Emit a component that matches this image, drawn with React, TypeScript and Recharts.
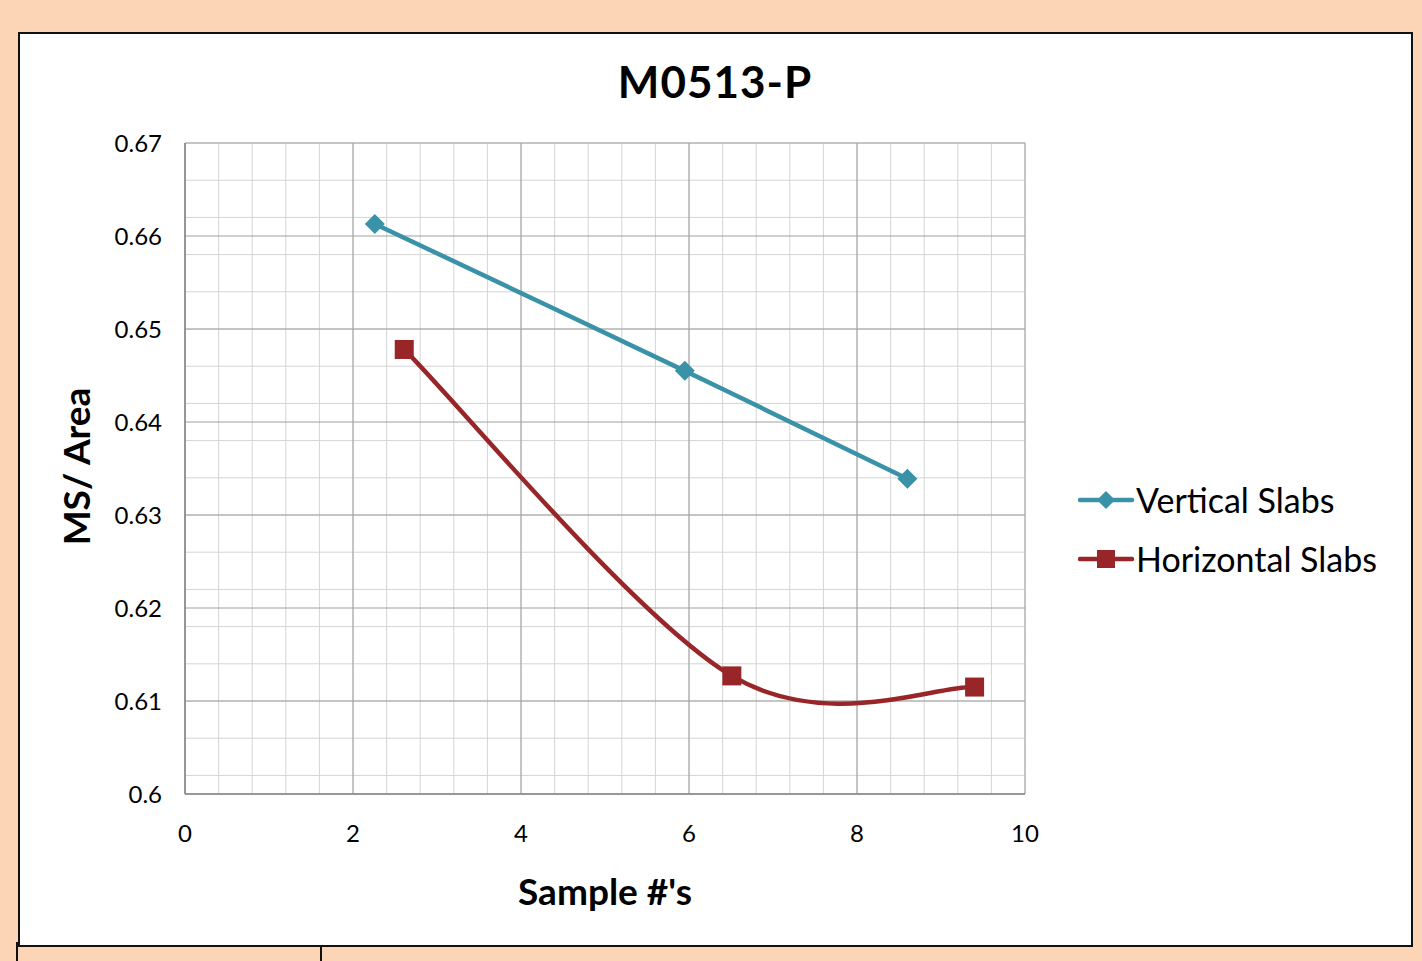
import React from "react";
import {
  LineChart,
  Line,
  XAxis,
  YAxis,
  CartesianGrid,
  Legend,
  Label,
} from "recharts";

// Sample positions and MS/Area readings
const verticalX = [2.26, 5.95, 8.6];
const verticalY = [0.6613, 0.6455, 0.6339];
const horizontalX = [2.61, 6.51, 9.4];
const horizontalY = [0.6478, 0.6127, 0.6115];

const xTicks = [0, 2, 4, 6, 8, 10];
const yTicks = [0.6, 0.61, 0.62, 0.63, 0.64, 0.65, 0.66, 0.67];

const TEAL = "#3A92A9";
const RED = "#982629";
const FONT = "Lato, 'Open Sans', sans-serif";

// minor gridlines: 0.4 apart on x, 0.002 apart on y
const xMinor = Array.from({ length: 26 }, (_, i) => +(i * 0.4).toFixed(2));
const yMinor = Array.from({ length: 36 }, (_, i) => +(0.6 + i * 0.002).toFixed(3));

const verticalData = verticalX.map((x, i) => ({ x, y: verticalY[i] }));
const horizontalData = horizontalX.map((x, i) => ({ x, y: horizontalY[i] }));

// Excel-style smoothed line (uniform Catmull-Rom as cubic beziers)
function smoothCurve(context: any) {
  let pts: number[][] = [];
  return {
    areaStart() {},
    areaEnd() {},
    lineStart() {
      pts = [];
    },
    point(x: number, y: number) {
      pts.push([+x, +y]);
    },
    lineEnd() {
      const n = pts.length;
      if (!n) return;
      context.moveTo(pts[0][0], pts[0][1]);
      for (let i = 0; i < n - 1; i++) {
        const p0 = pts[Math.max(i - 1, 0)];
        const p1 = pts[i];
        const p2 = pts[i + 1];
        const p3 = pts[Math.min(i + 2, n - 1)];
        context.bezierCurveTo(
          p1[0] + (p2[0] - p0[0]) / 6,
          p1[1] + (p2[1] - p0[1]) / 6,
          p2[0] - (p3[0] - p1[0]) / 6,
          p2[1] - (p3[1] - p1[1]) / 6,
          p2[0],
          p2[1]
        );
      }
    },
  };
}

const Diamond = (props: any) => {
  const { cx, cy } = props;
  if (cx == null || cy == null) return null;
  const r = 10;
  return (
    <path
      d={`M${cx},${cy - r}L${cx + r},${cy}L${cx},${cy + r}L${cx - r},${cy}Z`}
      fill={TEAL}
    />
  );
};

const Square = (props: any) => {
  const { cx, cy } = props;
  if (cx == null || cy == null) return null;
  const s = 9.5;
  return <rect x={cx - s} y={cy - s} width={s * 2} height={s * 2} fill={RED} />;
};

const LegendBox = () => {
  const items = [
    { name: "Vertical Slabs", color: TEAL, shape: "diamond" },
    { name: "Horizontal Slabs", color: RED, shape: "square" },
  ];
  return (
    <div style={{ fontFamily: FONT }}>
      {items.map((it) => (
        <div
          key={it.name}
          style={{ display: "flex", alignItems: "center", height: 59 }}
        >
          <svg width={56} height={24} style={{ marginRight: 2 }}>
            <line x1={2} y1={12} x2={54} y2={12} stroke={it.color} strokeWidth={4.5} strokeLinecap="round" />
            {it.shape === "diamond" ? (
              <path d="M28,3L37,12L28,21L19,12Z" fill={it.color} />
            ) : (
              <rect x={19} y={3} width={18} height={18} fill={it.color} />
            )}
          </svg>
          <span style={{ fontSize: 34, color: "#000" }}>{it.name}</span>
        </div>
      ))}
    </div>
  );
};

export default function App() {
  return (
    <div
      style={{
        position: "fixed",
        left: 0,
        top: 0,
        width: 1422,
        height: 961,
        background: "#FBD5B5",
        overflow: "hidden",
      }}
    >
      {/* white chart frame */}
      <div
        style={{
          position: "absolute",
          left: 18,
          top: 32,
          width: 1391,
          height: 911,
          background: "#fff",
          border: "2px solid #111",
        }}
      />
      {/* table cell borders below the frame */}
      <div style={{ position: "absolute", left: 16, top: 942, width: 2, height: 19, background: "#111" }} />
      <div style={{ position: "absolute", left: 320, top: 945, width: 2, height: 16, background: "#111" }} />

      <div
        style={{
          position: "absolute",
          left: 0,
          top: 55,
          width: 1430,
          textAlign: "center",
          fontFamily: FONT,
          fontWeight: 700,
          fontSize: 44,
          color: "#000",
          letterSpacing: 1,
        }}
      >
        M0513-P
      </div>

      <div style={{ position: "absolute", left: 0, top: 0 }}>
        <LineChart
          width={1422}
          height={961}
          margin={{ top: 143, right: 397, bottom: 107, left: 85 }}
        >
          <CartesianGrid
            horizontalValues={yMinor}
            verticalValues={xMinor}
            stroke="#D4D4D4"
            strokeWidth={1}
          />
          <CartesianGrid
            horizontalValues={yTicks}
            verticalValues={xTicks}
            stroke="#A0A0A0"
            strokeWidth={1}
          />
          <XAxis
            type="number"
            dataKey="x"
            domain={[0, 10]}
            ticks={xTicks}
            allowDuplicatedCategory={false}
            height={60}
            tickSize={0}
            tickMargin={31}
            axisLine={{ stroke: "#868686", strokeWidth: 1.5 }}
            tick={{ fill: "#000", fontSize: 24, fontFamily: FONT }}
          >
            <Label
              value="Sample #'s"
              position="bottom"
              offset={25}
              style={{ fontFamily: FONT, fontWeight: 700, fontSize: 37, fill: "#000" }}
            />
          </XAxis>
          <YAxis
            type="number"
            dataKey="y"
            domain={[0.6, 0.67]}
            ticks={yTicks}
            width={100}
            tickSize={0}
            tickMargin={23}
            tickFormatter={(v: number) => String(+v.toFixed(2))}
            axisLine={{ stroke: "#868686", strokeWidth: 1.5 }}
            tick={{ fill: "#000", fontSize: 24, fontFamily: FONT }}
          >
            <Label
              content={(props: any) => {
                const vb = props.viewBox || {};
                const cy = vb.y + vb.height / 2 - 2;
                return (
                  <text
                    x={75}
                    y={cy}
                    transform={`rotate(-90, 75, ${cy})`}
                    textAnchor="middle"
                    dominantBaseline="central"
                    style={{ fontFamily: FONT, fontWeight: 700, fontSize: 37, fill: "#000" }}
                  >
                    MS/ Area
                  </text>
                );
              }}
            />
          </YAxis>
          <Legend
            layout="horizontal"
            align="center"
            verticalAlign="middle"
            content={<LegendBox />}
            wrapperStyle={{ left: 1078, top: 470, width: 340 }}
          />
          <Line
            data={verticalData}
            dataKey="y"
            name="Vertical Slabs"
            type={smoothCurve as any}
            stroke={TEAL}
            strokeWidth={4.5}
            dot={<Diamond />}
            activeDot={false}
            isAnimationActive={false}
          />
          <Line
            data={horizontalData}
            dataKey="y"
            name="Horizontal Slabs"
            type={smoothCurve as any}
            stroke={RED}
            strokeWidth={4.5}
            dot={<Square />}
            activeDot={false}
            isAnimationActive={false}
          />
        </LineChart>
      </div>
    </div>
  );
}
